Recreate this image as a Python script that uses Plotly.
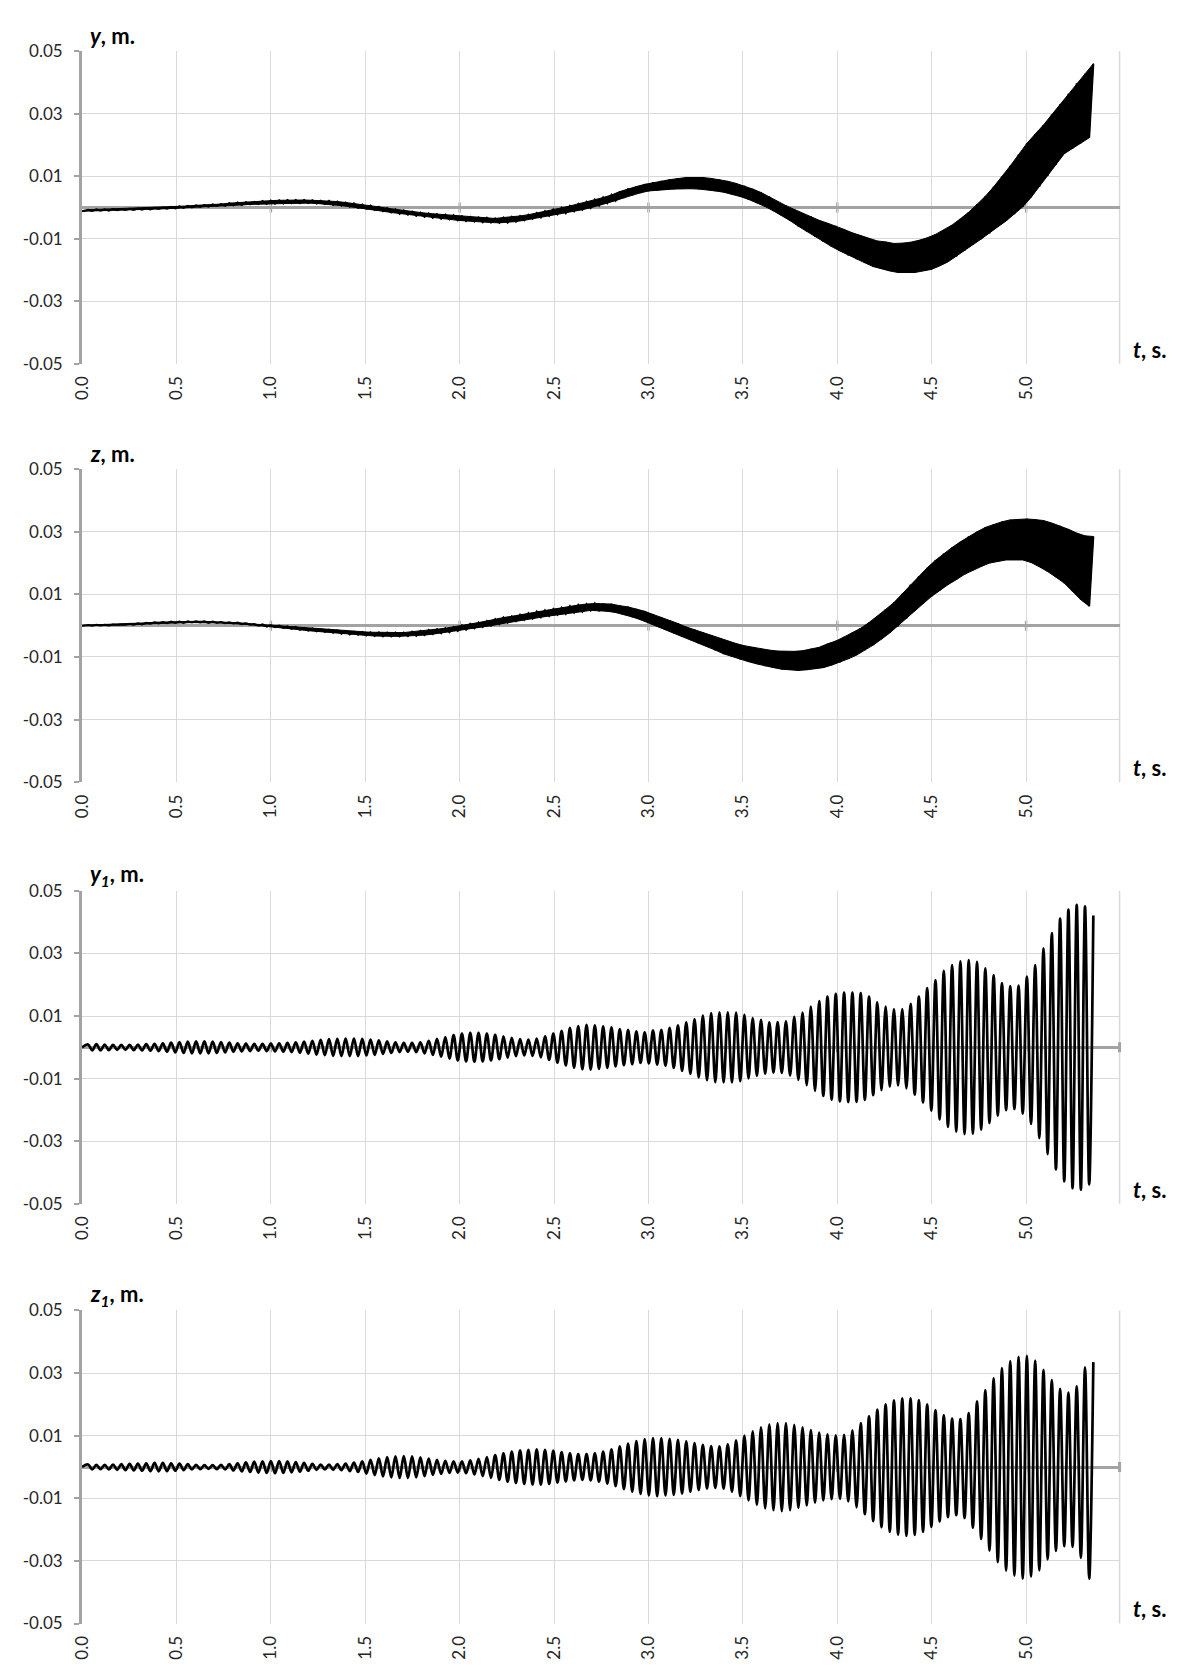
import plotly.graph_objects as go

# ---------------- data ----------------
# time of each local maximum and each local minimum of the fast oscillation, s
t_top = [0.032, 0.076, 0.120, 0.164, 0.208, 0.252, 0.296, 0.340, 0.384, 0.428,
         0.472, 0.516, 0.560, 0.604, 0.648, 0.692, 0.736, 0.780, 0.824, 0.868,
         0.912, 0.956, 1.000, 1.044, 1.088, 1.132, 1.176, 1.220, 1.264, 1.308,
         1.352, 1.396, 1.440, 1.484, 1.528, 1.572, 1.616, 1.660, 1.704, 1.748,
         1.792, 1.836, 1.880, 1.924, 1.968, 2.012, 2.056, 2.100, 2.144, 2.188,
         2.232, 2.276, 2.320, 2.364, 2.408, 2.452, 2.496, 2.540, 2.584, 2.628,
         2.672, 2.716, 2.760, 2.804, 2.848, 2.892, 2.936, 2.980, 3.024, 3.068,
         3.112, 3.156, 3.200, 3.244, 3.288, 3.332, 3.376, 3.420, 3.464, 3.508,
         3.552, 3.596, 3.640, 3.684, 3.728, 3.772, 3.816, 3.860, 3.904, 3.948,
         3.992, 4.036, 4.080, 4.124, 4.168, 4.212, 4.256, 4.300, 4.344, 4.388,
         4.432, 4.476, 4.520, 4.564, 4.608, 4.652, 4.696, 4.740, 4.784, 4.828,
         4.872, 4.916, 4.960, 5.004, 5.048, 5.092, 5.136, 5.180, 5.224, 5.268,
         5.312, 5.356]
t_bot = [0.000, 0.054, 0.098, 0.142, 0.186, 0.230, 0.274, 0.318, 0.362, 0.406,
         0.450, 0.494, 0.538, 0.582, 0.626, 0.670, 0.714, 0.758, 0.802, 0.846,
         0.890, 0.934, 0.978, 1.022, 1.066, 1.110, 1.154, 1.198, 1.242, 1.286,
         1.330, 1.374, 1.418, 1.462, 1.506, 1.550, 1.594, 1.638, 1.682, 1.726,
         1.770, 1.814, 1.858, 1.902, 1.946, 1.990, 2.034, 2.078, 2.122, 2.166,
         2.210, 2.254, 2.298, 2.342, 2.386, 2.430, 2.474, 2.518, 2.562, 2.606,
         2.650, 2.694, 2.738, 2.782, 2.826, 2.870, 2.914, 2.958, 3.002, 3.046,
         3.090, 3.134, 3.178, 3.222, 3.266, 3.310, 3.354, 3.398, 3.442, 3.486,
         3.530, 3.574, 3.618, 3.662, 3.706, 3.750, 3.794, 3.838, 3.882, 3.926,
         3.970, 4.014, 4.058, 4.102, 4.146, 4.190, 4.234, 4.278, 4.322, 4.366,
         4.410, 4.454, 4.498, 4.542, 4.586, 4.630, 4.674, 4.718, 4.762, 4.806,
         4.850, 4.894, 4.938, 4.982, 5.026, 5.070, 5.114, 5.158, 5.202, 5.246,
         5.290, 5.334]

# y, m.
y_top = [-0.0007, -0.0006, -0.0006, -0.0005, -0.0005, -0.0004, -0.0003, -0.0002, -0.0001, 0.0000,
         0.0002, 0.0004, 0.0005, 0.0007, 0.0008, 0.0010, 0.0011, 0.0014, 0.0016, 0.0017,
         0.0018, 0.0021, 0.0022, 0.0023, 0.0024, 0.0024, 0.0024, 0.0023, 0.0022, 0.0021,
         0.0019, 0.0016, 0.0013, 0.0009, 0.0006, 0.0002, -0.0002, -0.0006, -0.0009, -0.0013,
         -0.0016, -0.0019, -0.0021, -0.0023, -0.0025, -0.0028, -0.0030, -0.0032, -0.0033, -0.0035,
         -0.0032, -0.0030, -0.0027, -0.0023, -0.0018, -0.0012, -0.0006, -0.0001, 0.0005, 0.0011,
         0.0018, 0.0025, 0.0032, 0.0040, 0.0051, 0.0060, 0.0067, 0.0074, 0.0080, 0.0084,
         0.0089, 0.0093, 0.0096, 0.0096, 0.0096, 0.0093, 0.0089, 0.0084, 0.0077, 0.0069,
         0.0059, 0.0048, 0.0034, 0.0019, 0.0006, -0.0006, -0.0018, -0.0029, -0.0041, -0.0050,
         -0.0059, -0.0070, -0.0081, -0.0090, -0.0099, -0.0107, -0.0110, -0.0115, -0.0114, -0.0111,
         -0.0105, -0.0097, -0.0086, -0.0072, -0.0056, -0.0036, -0.0015, 0.0010, 0.0036, 0.0066,
         0.0099, 0.0133, 0.0169, 0.0205, 0.0235, 0.0264, 0.0297, 0.0330, 0.0364, 0.0397,
         0.0428, 0.0460]
y_bot = [-0.0012, -0.0011, -0.0010, -0.0010, -0.0009, -0.0008, -0.0008, -0.0007, -0.0006, -0.0005,
         -0.0004, -0.0003, -0.0001, 0.0000, 0.0002, 0.0003, 0.0005, 0.0005, 0.0007, 0.0008,
         0.0010, 0.0011, 0.0011, 0.0012, 0.0013, 0.0014, 0.0014, 0.0014, 0.0013, 0.0011,
         0.0008, 0.0006, 0.0003, -0.0001, -0.0004, -0.0008, -0.0012, -0.0016, -0.0020, -0.0023,
         -0.0027, -0.0030, -0.0033, -0.0036, -0.0038, -0.0041, -0.0043, -0.0045, -0.0047, -0.0048,
         -0.0049, -0.0048, -0.0045, -0.0041, -0.0036, -0.0032, -0.0027, -0.0022, -0.0018, -0.0012,
         -0.0007, -0.0001, 0.0006, 0.0014, 0.0022, 0.0031, 0.0040, 0.0047, 0.0053, 0.0056,
         0.0057, 0.0059, 0.0060, 0.0060, 0.0059, 0.0057, 0.0053, 0.0049, 0.0042, 0.0035,
         0.0026, 0.0015, 0.0003, -0.0011, -0.0026, -0.0042, -0.0060, -0.0076, -0.0093, -0.0109,
         -0.0125, -0.0139, -0.0153, -0.0165, -0.0177, -0.0189, -0.0196, -0.0203, -0.0208, -0.0208,
         -0.0208, -0.0203, -0.0198, -0.0187, -0.0174, -0.0157, -0.0138, -0.0119, -0.0101, -0.0083,
         -0.0062, -0.0043, -0.0021, 0.0002, 0.0032, 0.0066, 0.0101, 0.0137, 0.0172, 0.0189,
         0.0206, 0.0223]

# z, m.
z_top = [0.0002, 0.0003, 0.0003, 0.0004, 0.0004, 0.0006, 0.0008, 0.0009, 0.0011, 0.0012,
         0.0013, 0.0013, 0.0014, 0.0014, 0.0014, 0.0013, 0.0012, 0.0011, 0.0010, 0.0008,
         0.0005, 0.0004, 0.0002, 0.0000, -0.0002, -0.0004, -0.0007, -0.0009, -0.0011, -0.0013,
         -0.0015, -0.0017, -0.0019, -0.0020, -0.0021, -0.0021, -0.0022, -0.0022, -0.0022, -0.0019,
         -0.0017, -0.0014, -0.0011, -0.0008, -0.0004, 0.0001, 0.0006, 0.0010, 0.0015, 0.0021,
         0.0026, 0.0030, 0.0035, 0.0040, 0.0045, 0.0049, 0.0053, 0.0057, 0.0062, 0.0066,
         0.0069, 0.0071, 0.0070, 0.0069, 0.0064, 0.0060, 0.0053, 0.0046, 0.0036, 0.0027,
         0.0017, 0.0007, -0.0004, -0.0013, -0.0022, -0.0031, -0.0040, -0.0050, -0.0057, -0.0064,
         -0.0069, -0.0074, -0.0078, -0.0081, -0.0082, -0.0082, -0.0080, -0.0074, -0.0069, -0.0058,
         -0.0049, -0.0036, -0.0023, -0.0008, 0.0010, 0.0030, 0.0052, 0.0074, 0.0102, 0.0131,
         0.0158, 0.0185, 0.0209, 0.0230, 0.0250, 0.0268, 0.0285, 0.0300, 0.0314, 0.0324,
         0.0332, 0.0338, 0.0340, 0.0341, 0.0339, 0.0336, 0.0328, 0.0319, 0.0308, 0.0296,
         0.0287, 0.0285]
z_bot = [0.0000, 0.0000, 0.0001, 0.0001, 0.0002, 0.0003, 0.0003, 0.0004, 0.0006, 0.0007,
         0.0008, 0.0009, 0.0009, 0.0010, 0.0010, 0.0009, 0.0009, 0.0008, 0.0007, 0.0005,
         0.0003, 0.0000, -0.0003, -0.0005, -0.0007, -0.0010, -0.0013, -0.0016, -0.0018, -0.0020,
         -0.0023, -0.0026, -0.0028, -0.0029, -0.0031, -0.0033, -0.0034, -0.0034, -0.0034, -0.0033,
         -0.0032, -0.0030, -0.0027, -0.0024, -0.0021, -0.0017, -0.0013, -0.0008, -0.0004, 0.0000,
         0.0005, 0.0010, 0.0015, 0.0019, 0.0023, 0.0027, 0.0031, 0.0035, 0.0038, 0.0042,
         0.0045, 0.0049, 0.0047, 0.0046, 0.0042, 0.0036, 0.0028, 0.0019, 0.0010, -0.0001,
         -0.0012, -0.0023, -0.0034, -0.0045, -0.0056, -0.0067, -0.0078, -0.0090, -0.0098, -0.0107,
         -0.0115, -0.0122, -0.0129, -0.0134, -0.0139, -0.0141, -0.0143, -0.0141, -0.0138, -0.0134,
         -0.0126, -0.0117, -0.0106, -0.0094, -0.0078, -0.0062, -0.0043, -0.0023, -0.0002, 0.0023,
         0.0047, 0.0070, 0.0093, 0.0112, 0.0131, 0.0147, 0.0164, 0.0177, 0.0189, 0.0200,
         0.0205, 0.0210, 0.0211, 0.0210, 0.0202, 0.0188, 0.0173, 0.0155, 0.0136, 0.0110,
         0.0083, 0.0062]

# y1, m.
y1_top = [0.0009, 0.0010, 0.0009, 0.0008, 0.0008, 0.0008, 0.0009, 0.0010, 0.0011, 0.0013,
          0.0015, 0.0017, 0.0018, 0.0019, 0.0019, 0.0018, 0.0017, 0.0015, 0.0013, 0.0012,
          0.0011, 0.0011, 0.0012, 0.0013, 0.0014, 0.0016, 0.0018, 0.0021, 0.0024, 0.0026,
          0.0027, 0.0028, 0.0028, 0.0027, 0.0025, 0.0022, 0.0019, 0.0016, 0.0014, 0.0014,
          0.0016, 0.0021, 0.0027, 0.0033, 0.0039, 0.0044, 0.0046, 0.0046, 0.0044, 0.0040,
          0.0035, 0.0030, 0.0026, 0.0025, 0.0028, 0.0035, 0.0044, 0.0053, 0.0062, 0.0068,
          0.0072, 0.0070, 0.0067, 0.0064, 0.0058, 0.0056, 0.0051, 0.0048, 0.0054, 0.0056,
          0.0062, 0.0070, 0.0080, 0.0090, 0.0101, 0.0109, 0.0112, 0.0112, 0.0111, 0.0104,
          0.0093, 0.0088, 0.0080, 0.0081, 0.0083, 0.0097, 0.0111, 0.0130, 0.0148, 0.0162,
          0.0171, 0.0175, 0.0175, 0.0173, 0.0162, 0.0144, 0.0130, 0.0122, 0.0122, 0.0139,
          0.0162, 0.0189, 0.0215, 0.0244, 0.0263, 0.0275, 0.0279, 0.0273, 0.0252, 0.0231,
          0.0205, 0.0196, 0.0197, 0.0226, 0.0263, 0.0316, 0.0365, 0.0411, 0.0440, 0.0455,
          0.0450, 0.0421]
y1_bot = [0.0000, -0.0010, -0.0010, -0.0009, -0.0008, -0.0008, -0.0009, -0.0010, -0.0011, -0.0012,
          -0.0014, -0.0016, -0.0018, -0.0019, -0.0019, -0.0019, -0.0018, -0.0016, -0.0014, -0.0013,
          -0.0012, -0.0011, -0.0012, -0.0013, -0.0014, -0.0015, -0.0017, -0.0020, -0.0023, -0.0025,
          -0.0027, -0.0028, -0.0028, -0.0028, -0.0026, -0.0024, -0.0021, -0.0018, -0.0015, -0.0014,
          -0.0015, -0.0019, -0.0024, -0.0030, -0.0036, -0.0042, -0.0045, -0.0046, -0.0045, -0.0042,
          -0.0038, -0.0033, -0.0028, -0.0026, -0.0027, -0.0032, -0.0040, -0.0049, -0.0058, -0.0065,
          -0.0070, -0.0071, -0.0069, -0.0066, -0.0061, -0.0057, -0.0054, -0.0050, -0.0051, -0.0055,
          -0.0059, -0.0066, -0.0075, -0.0085, -0.0096, -0.0105, -0.0111, -0.0112, -0.0112, -0.0108,
          -0.0099, -0.0091, -0.0084, -0.0081, -0.0082, -0.0090, -0.0104, -0.0121, -0.0139, -0.0155,
          -0.0167, -0.0173, -0.0175, -0.0174, -0.0168, -0.0153, -0.0137, -0.0126, -0.0122, -0.0131,
          -0.0151, -0.0176, -0.0202, -0.0230, -0.0254, -0.0269, -0.0277, -0.0276, -0.0263, -0.0242,
          -0.0218, -0.0201, -0.0197, -0.0212, -0.0245, -0.0290, -0.0341, -0.0390, -0.0428, -0.0450,
          -0.0455, -0.0438]

# z1, m.
z1_top = [0.0008, 0.0007, 0.0007, 0.0008, 0.0009, 0.0010, 0.0011, 0.0012, 0.0013, 0.0013,
          0.0012, 0.0011, 0.0009, 0.0007, 0.0006, 0.0006, 0.0007, 0.0009, 0.0012, 0.0015,
          0.0017, 0.0018, 0.0019, 0.0019, 0.0018, 0.0016, 0.0013, 0.0010, 0.0008, 0.0008,
          0.0009, 0.0011, 0.0014, 0.0018, 0.0023, 0.0028, 0.0032, 0.0034, 0.0035, 0.0034,
          0.0031, 0.0027, 0.0023, 0.0020, 0.0018, 0.0018, 0.0021, 0.0026, 0.0032, 0.0038,
          0.0044, 0.0049, 0.0053, 0.0055, 0.0056, 0.0055, 0.0052, 0.0048, 0.0044, 0.0041,
          0.0041, 0.0044, 0.0049, 0.0056, 0.0066, 0.0075, 0.0083, 0.0089, 0.0092, 0.0092,
          0.0090, 0.0087, 0.0082, 0.0076, 0.0071, 0.0067, 0.0066, 0.0072, 0.0085, 0.0100,
          0.0114, 0.0127, 0.0136, 0.0140, 0.0140, 0.0135, 0.0127, 0.0118, 0.0110, 0.0104,
          0.0101, 0.0103, 0.0117, 0.0140, 0.0162, 0.0183, 0.0200, 0.0213, 0.0219, 0.0219,
          0.0214, 0.0200, 0.0182, 0.0165, 0.0155, 0.0153, 0.0172, 0.0210, 0.0246, 0.0283,
          0.0316, 0.0338, 0.0352, 0.0355, 0.0340, 0.0310, 0.0278, 0.0250, 0.0238, 0.0258,
          0.0318, 0.0335]
z1_bot = [0.0000, -0.0008, -0.0007, -0.0008, -0.0009, -0.0010, -0.0011, -0.0012, -0.0013, -0.0014,
          -0.0013, -0.0012, -0.0010, -0.0008, -0.0007, -0.0006, -0.0007, -0.0008, -0.0011, -0.0014,
          -0.0016, -0.0018, -0.0019, -0.0020, -0.0019, -0.0017, -0.0015, -0.0012, -0.0009, -0.0008,
          -0.0009, -0.0010, -0.0013, -0.0016, -0.0021, -0.0026, -0.0030, -0.0033, -0.0035, -0.0035,
          -0.0033, -0.0029, -0.0025, -0.0022, -0.0019, -0.0018, -0.0020, -0.0024, -0.0029, -0.0035,
          -0.0041, -0.0047, -0.0051, -0.0054, -0.0056, -0.0056, -0.0054, -0.0050, -0.0046, -0.0043,
          -0.0041, -0.0043, -0.0047, -0.0053, -0.0061, -0.0071, -0.0079, -0.0086, -0.0091, -0.0093,
          -0.0091, -0.0089, -0.0085, -0.0079, -0.0074, -0.0069, -0.0067, -0.0069, -0.0079, -0.0093,
          -0.0107, -0.0121, -0.0132, -0.0138, -0.0141, -0.0138, -0.0131, -0.0123, -0.0114, -0.0107,
          -0.0103, -0.0102, -0.0110, -0.0129, -0.0151, -0.0173, -0.0192, -0.0207, -0.0216, -0.0220,
          -0.0217, -0.0207, -0.0191, -0.0174, -0.0160, -0.0154, -0.0163, -0.0194, -0.0230, -0.0267,
          -0.0304, -0.0331, -0.0347, -0.0357, -0.0350, -0.0330, -0.0295, -0.0268, -0.0253, -0.0255,
          -0.0290, -0.0357]

y_tick_vals = [0.05, 0.03, 0.01, -0.01, -0.03, -0.05]
y_tick_text = ["0.05", "0.03", "0.01", "-0.01", "-0.03", "-0.05"]
axis_cross_ticks = [1.0, 2.0, 3.0, 4.0, 5.0]

panel_titles = ["<b><i>y</i>, m.</b>", "<b><i>z</i>, m.</b>",
                "<b><i>y<sub>1</sub></i>, m.</b>", "<b><i>z<sub>1</sub></i>, m.</b>"]
x_title = "<b><i>t</i>, s.</b>"

series = [(y_bot, y_top), (z_bot, z_top), (y1_bot, y1_top), (z1_bot, z1_top)]
dense_band = [True, True, False, False]   # top two panels drawn as a dense black band


def merge(bot, top):
    """Put minima and maxima in time order (bot0, top0, bot1, top1, ...)."""
    out = []
    for b, t in zip(bot, top):
        out.extend([b, t])
    return out


t_all = merge(t_bot, t_top)

# ---------------- layout geometry (pixels) ----------------
W, H = 1181, 1674
plot_left, plot_right = 71.7, 1119.0
panel_px = [(40.7, 357.3), (464.0, 781.0), (891.0, 1208.0), (1316.0, 1633.0)]
x_max = 5.495

AXIS_GRAY = "#a3a3a3"
GRID = "#d9d9d9"
TEXT = "#262626"
FONT = "Lato, 'Open Sans', sans-serif"

fig = go.Figure()
layout = dict(
    width=W, height=H, margin=dict(l=0, r=0, t=0, b=0),
    paper_bgcolor="white", plot_bgcolor="white", showlegend=False,
    font=dict(family=FONT, size=16, color=TEXT),
)
shapes, annotations = [], []

for i, ((bot, top), (ptop, pbot)) in enumerate(zip(series, panel_px)):
    n = "" if i == 0 else str(i + 1)
    xa, ya = "x" + n, "y" + n
    vals = merge(bot, top)
    if dense_band[i]:
        # the envelope of the fast oscillation, filled solid black
        fig.add_trace(go.Scatter(
            x=t_top + t_bot[::-1], y=top + bot[::-1], mode="lines",
            xaxis=xa, yaxis=ya, fill="toself", fillcolor="black",
            line=dict(color="black", width=1), hoverinfo="skip"))
        thick, shape = 2.0, "linear"
    else:
        thick, shape = 2.7, "spline"
    fig.add_trace(go.Scatter(
        x=t_all, y=vals, mode="lines", xaxis=xa, yaxis=ya,
        line=dict(color="black", width=thick, shape=shape, smoothing=1.0),
        hoverinfo="skip"))

    ydom = [1 - pbot / H, 1 - ptop / H]
    layout["xaxis" + n] = dict(
        domain=[plot_left / W, plot_right / W], anchor=ya,
        range=[0, x_max], tick0=0, dtick=0.5, tickformat=".1f",
        tickangle=-90, ticks="", showline=False, zeroline=False,
        showgrid=True, gridcolor=GRID, gridwidth=1,
        tickfont=dict(family=FONT, size=17, color=TEXT),
        ticklabelstandoff=8, fixedrange=True)
    layout["yaxis" + n] = dict(
        domain=ydom, anchor=xa, range=[-0.05, 0.05],
        tickvals=y_tick_vals, ticktext=y_tick_text,
        showgrid=True, gridcolor=GRID, gridwidth=1,
        showline=True, linecolor=AXIS_GRAY, linewidth=3,
        ticks="outside", ticklen=5, tickwidth=2, tickcolor=AXIS_GRAY,
        zeroline=True, zerolinecolor=AXIS_GRAY, zerolinewidth=3,
        tickfont=dict(family=FONT, size=17, color=TEXT),
        ticklabelstandoff=8, fixedrange=True)

    # plot-area border (right side) in light gray
    shapes.append(dict(type="line", xref=xa + " domain", yref=ya + " domain",
                       x0=1, x1=1, y0=0, y1=1, line=dict(color=GRID, width=1.5),
                       layer="below"))
    # cross tick marks on the horizontal axis (at y = 0)
    for tv in axis_cross_ticks:
        shapes.append(dict(type="line", xref=xa, yref=ya, x0=tv, x1=tv,
                           y0=-0.0016, y1=0.0016,
                           line=dict(color=AXIS_GRAY, width=2.5), layer="below"))
    if i >= 2:
        shapes.append(dict(type="line", xref=xa + " domain", yref=ya, x0=1, x1=1,
                           y0=-0.0016, y1=0.0016,
                           line=dict(color=AXIS_GRAY, width=3), layer="below"))

    annotations.append(dict(text=panel_titles[i], xref="paper", yref="paper",
                            x=78 / W, y=1 - (ptop - 16) / H, xanchor="left",
                            yanchor="middle", showarrow=False,
                            font=dict(family=FONT, size=22, color="black")))
    annotations.append(dict(text=x_title, xref="paper", yref="paper",
                            x=1131 / W, y=1 - (pbot - 15) / H, xanchor="left",
                            yanchor="middle", showarrow=False,
                            font=dict(family=FONT, size=22, color="black")))

layout["shapes"] = shapes
layout["annotations"] = annotations
fig.update_layout(**layout)
fig.write_html("out.html")
